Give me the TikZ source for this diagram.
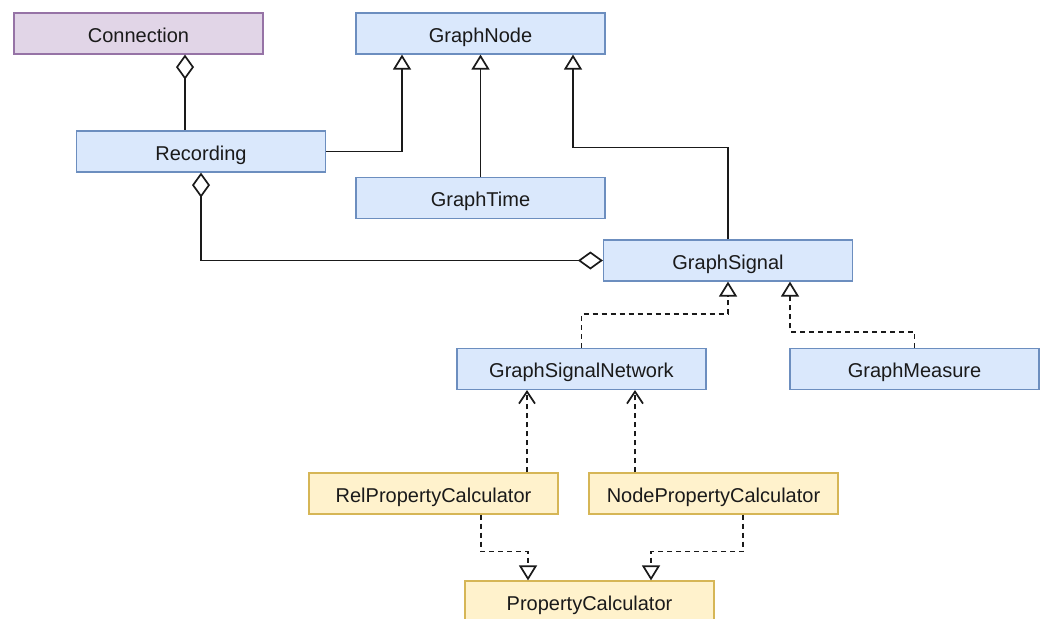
\documentclass[tikz,border=0pt]{standalone}
\usepackage{fontspec}
\setmainfont{Liberation Sans}
\usetikzlibrary{arrows.meta}
\definecolor{bfill}{HTML}{DAE8FC}\definecolor{bline}{HTML}{6C8EBF}
\definecolor{pfill}{HTML}{E1D5E7}\definecolor{pline}{HTML}{9673A6}
\definecolor{yfill}{HTML}{FFF2CC}\definecolor{yline}{HTML}{D6B656}
\definecolor{ink}{HTML}{1A1A1A}
\tikzset{
  cls/.style={draw, line width=1.2pt, minimum width=249pt, minimum height=41pt, inner sep=0pt,
    text height=18pt, text depth=1pt,
    font=\fontsize{20}{22}\selectfont, text=ink},
  blue/.style={cls, fill=bfill, draw=bline},
  purp/.style={cls, fill=pfill, draw=pline},
  yell/.style={cls, fill=yfill, draw=yline},
  conn/.style={line width=1.7pt, draw=ink},
  inh/.style={conn, -{Triangle[open, length=15pt, width=18pt, fill=white]}},
  real/.style={inh, dash pattern=on 5pt off 4pt},
  dep/.style={conn, dash pattern=on 5pt off 4pt, -{Straight Barb[length=12pt, width=16pt]}},
  aggr/.style={conn, {Diamond[open, length=25pt, width=18pt, fill=white]}-},
  aggrboth/.style={conn, {Diamond[open, length=25pt, width=18pt, fill=white]}-{Diamond[open, length=25pt, width=18pt, fill=white]}}
}
\begin{document}
\begin{tikzpicture}[x=1pt, y=-1pt]
\useasboundingbox (0,0) rectangle (1043,618);
\clip (0,0) rectangle (1043,618);
\node[purp] (conn) at (138.5,33.5) {Connection};
\node[blue] (gn) at (480.5,33.5) {GraphNode};
\node[blue] (rec) at (201,151.5) {Recording};
\node[blue] (gt) at (480.5,198) {GraphTime};
\node[blue] (gs) at (728,260.5) {GraphSignal};
\node[blue] (gsn) at (581.5,369) {GraphSignalNetwork};
\node[blue] (gm) at (914.5,369) {GraphMeasure};
\node[yell] (rpc) at (433.5,493.5) {RelPropertyCalculator};
\node[yell] (npc) at (713.5,493.5) {NodePropertyCalculator};
\node[yell] (pc) at (589.5,601.5) {PropertyCalculator};

\draw[aggr] ([xshift=46.5pt]conn.south) -- ([xshift=-16pt]rec.north);
\draw[inh] (rec.east) -| ([xshift=-78.5pt]gn.south);
\draw[inh] (gt.north) -- (gn.south);
\draw[inh] (gs.north) -- ++(0,-92) -| ([xshift=92.5pt]gn.south);
\draw[aggrboth] (rec.south) |- (gs.west);
\draw[real] (gsn.north) -- ++(0,-34) -| (gs.south);
\draw[real] (gm.north) -- ++(0,-16) -| ([xshift=62pt]gs.south);
\draw[dep] ([xshift=93.5pt]rpc.north) -- ([xshift=-54.5pt]gsn.south);
\draw[dep] ([xshift=-78.5pt]npc.north) -- ([xshift=53.5pt]gsn.south);
\draw[real] ([xshift=47.5pt]rpc.south) -- ++(0,37) -| ([xshift=-61.5pt]pc.north);
\draw[real] ([xshift=29.5pt]npc.south) -- ++(0,37) -| ([xshift=61.5pt]pc.north);
\end{tikzpicture}
\end{document}
